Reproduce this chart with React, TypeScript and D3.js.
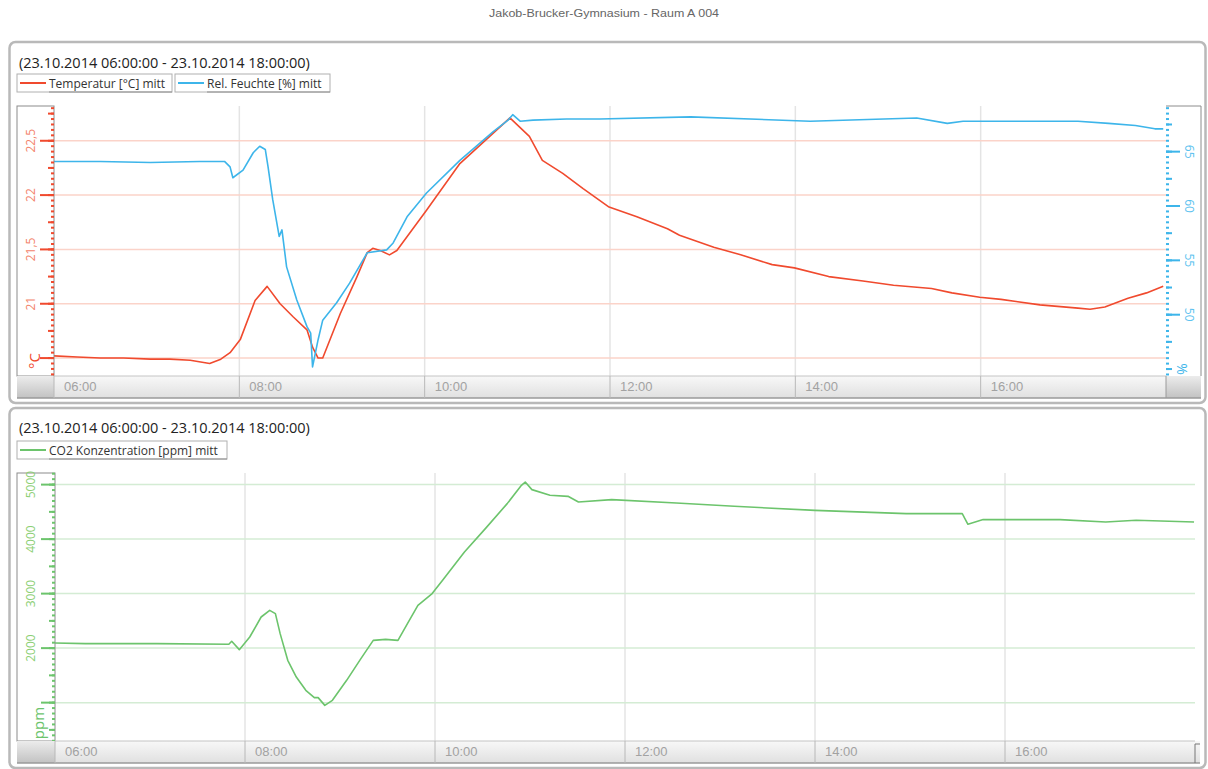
import React from 'react';
import * as d3 from 'd3';

// chart texts
const chartTitle = 'Jakob-Brucker-Gymnasium - Raum A 004';
const rangeLabel = '(23.10.2014 06:00:00 - 23.10.2014 18:00:00)';
const tempLegend = 'Temperatur [°C] mitt';
const humLegend = 'Rel. Feuchte [%] mitt';
const co2Legend = 'CO2 Konzentration [ppm] mitt';

// x axis (hours of 23.10.2014)
const xTickHours = [6, 8, 10, 12, 14, 16];
const xTickLabels = ['06:00', '08:00', '10:00', '12:00', '14:00', '16:00'];

// y axis ticks
const tempTicks = [20.5, 21, 21.5, 22, 22.5];
const tempTickLabels = ['', '21', '21,5', '22', '22,5'];
const humTicks = [50, 55, 60, 65];
const humTickLabels = ['50', '55', '60', '65'];
const co2Ticks = [1000, 2000, 3000, 4000, 5000];
const co2TickLabels = ['', '2000', '3000', '4000', '5000'];

// Temperatur [°C]
const tempHours = [6.0, 6.25, 6.5, 6.75, 7.04, 7.25, 7.47, 7.68, 7.8, 7.9, 8.01, 8.17, 8.3, 8.44, 8.58, 8.73, 8.79, 8.85, 8.9, 9.09, 9.27, 9.38, 9.44, 9.52, 9.62, 9.7, 10.02, 10.38, 10.74, 10.92, 11.13, 11.27, 11.49, 11.71, 11.99, 12.29, 12.62, 12.75, 13.12, 13.41, 13.75, 13.99, 14.36, 14.73, 15.06, 15.47, 15.69, 15.99, 16.22, 16.64, 17.05, 17.18, 17.34, 17.59, 17.79, 17.97];
const tempValues = [20.52, 20.51, 20.5, 20.5, 20.49, 20.49, 20.48, 20.45, 20.49, 20.55, 20.67, 21.03, 21.16, 21.0, 20.88, 20.76, 20.6, 20.5, 20.5, 20.91, 21.25, 21.47, 21.51, 21.49, 21.45, 21.49, 21.86, 22.29, 22.57, 22.71, 22.54, 22.32, 22.2, 22.06, 21.89, 21.8, 21.69, 21.63, 21.52, 21.45, 21.36, 21.33, 21.25, 21.21, 21.17, 21.14, 21.1, 21.06, 21.04, 20.99, 20.96, 20.95, 20.97, 21.05, 21.1, 21.16];

// Rel. Feuchte [%]
const humHours = [6.0, 6.5, 7.04, 7.57, 7.84, 7.9, 7.93, 8.04, 8.15, 8.22, 8.28, 8.31, 8.36, 8.43, 8.46, 8.51, 8.62, 8.73, 8.77, 8.79, 8.85, 8.9, 9.05, 9.19, 9.38, 9.59, 9.66, 9.81, 10.02, 10.38, 10.74, 10.9, 10.95, 11.03, 11.17, 11.53, 11.89, 12.87, 14.16, 15.31, 15.64, 15.81, 17.05, 17.38, 17.67, 17.88, 17.97];
const humValues = [64.1, 64.1, 64.0, 64.1, 64.1, 63.6, 62.6, 63.3, 64.9, 65.5, 65.2, 63.6, 60.6, 57.2, 57.8, 54.4, 51.35, 48.9, 48.3, 45.2, 47.7, 49.5, 51.1, 52.9, 55.7, 55.96, 56.6, 59.0, 61.2, 64.2, 66.85, 67.9, 68.4, 67.8, 67.9, 68.0, 68.0, 68.2, 67.8, 68.1, 67.6, 67.8, 67.8, 67.6, 67.4, 67.1, 67.1];

// CO2 Konzentration [ppm]
const co2Hours = [6.0, 6.32, 7.07, 7.83, 7.86, 7.94, 8.05, 8.17, 8.26, 8.32, 8.37, 8.45, 8.54, 8.64, 8.73, 8.77, 8.84, 8.92, 9.07, 9.22, 9.35, 9.48, 9.61, 9.71, 9.82, 9.97, 10.08, 10.31, 10.53, 10.76, 10.91, 10.95, 11.02, 11.21, 11.4, 11.51, 11.86, 12.54, 13.15, 14.0, 14.96, 15.55, 15.61, 15.77, 16.58, 17.06, 17.38, 17.99];
const co2Values = [2094, 2083, 2083, 2070, 2125, 1972, 2204, 2571, 2693, 2633, 2266, 1776, 1470, 1226, 1092, 1092, 950, 1042, 1409, 1807, 2143, 2161, 2143, 2450, 2785, 3000, 3244, 3763, 4193, 4651, 4987, 5048, 4908, 4804, 4785, 4681, 4725, 4662, 4602, 4528, 4468, 4468, 4272, 4358, 4358, 4314, 4345, 4314];

const RED = '#f04a2e';
const BLUE = '#3db5ea';
const GREEN = '#6cc46c';
const UI_FONT = '"Open Sans", "DejaVu Sans", sans-serif';
const TICK_FONT = '"Liberation Sans", Arial, sans-serif';

const stepValues = (scale: any, step: number) => {
  const [a, b] = scale.domain();
  return d3.range(Math.ceil(a / step - 1e-9), Math.floor(b / step + 1e-9) + 1).map((i) => +(i * step).toFixed(4));
};

// dotted scale like the original: minor, mid and major ticks
function YAxis({ scale, x, dir, minor, mid, ticks, color }: any) {
  return (
    <g>
      {stepValues(scale, minor).map((v: number) => (
        <line key={'m' + v} x1={x} x2={x + dir * 3} y1={scale(v)} y2={scale(v)} stroke={color} strokeWidth={2} />
      ))}
      {stepValues(scale, mid).map((v: number) => (
        <line key={'d' + v} x1={x} x2={x + dir * 6} y1={scale(v)} y2={scale(v)} stroke={color} strokeWidth={2} />
      ))}
      {ticks.map((v: number) => (
        <line key={'t' + v} x1={x} x2={x + dir * 14} y1={scale(v)} y2={scale(v)} stroke={color} strokeWidth={2} />
      ))}
    </g>
  );
}

function XStrip({ xScale, left, right, y }: any) {
  const h = 22;
  return (
    <g>
      <rect x={17} y={y} width={right + 35 - 17} height={h} fill="url(#stripGrad)" />
      <rect x={17} y={y} width={left - 17} height={h} fill="url(#cornerGrad)" />
      <rect x={right} y={y} width={left - 17 - 2} height={h} fill="url(#cornerGrad)" />
      <line x1={17} x2={right + 35} y1={y + h} y2={y + h} stroke="#9a9a9a" strokeWidth={1.5} />
      <line x1={left} x2={right} y1={y} y2={y} stroke="#c4c4c4" strokeWidth={1} />
      {xTickHours.map((t, i) => (
        <g key={t}>
          <line x1={xScale(t)} x2={xScale(t)} y1={y} y2={y + h} stroke="#b8b8b8" strokeWidth={1} />
          <text x={xScale(t) + 10} y={y + 15} fontFamily={TICK_FONT} fontSize={13} fill="#a2a2a2">
            {xTickLabels[i]}
          </text>
        </g>
      ))}
      <line x1={right} x2={right} y1={y} y2={y + h} stroke="#9a9a9a" strokeWidth={1} />
    </g>
  );
}

function Legend({ x, y, w, color, label }: any) {
  return (
    <g>
      <rect x={x} y={y} width={w} height={18} fill="#fff" stroke="#b0b0b0" strokeWidth={1} />
      <line x1={x + 32} x2={x + w} y1={y + 18} y2={y + 18} stroke="#909090" strokeWidth={1} />
      <line x1={x + 3} x2={x + 29} y1={y + 9} y2={y + 9} stroke={color} strokeWidth={2} />
      <text x={x + 32} y={y + 13.5} fontFamily={UI_FONT} fontSize={12} fill="#333">
        {label}
      </text>
    </g>
  );
}

export default function App() {
  // top panel
  const topL = 54, topR = 1166, topT = 106, topB = 376;
  const xTop = d3.scaleLinear().domain([6, 18]).range([topL, topR]);
  const yTemp = d3.scaleLinear().domain([20.335, 22.82]).range([topB, topT]);
  const yHum = d3.scaleLinear().domain([44.36, 69.2]).range([topB, topT]);
  // bottom panel
  const botL = 55, botR = 1195, botT = 473, botB = 741;
  const xBot = d3.scaleLinear().domain([6, 18]).range([botL, botR]);
  const yCo2 = d3.scaleLinear().domain([296, 5213]).range([botB, botT]);

  const tempLine = d3.line<[number, number]>().x((d) => xTop(d[0])).y((d) => yTemp(d[1]));
  const humLine = d3.line<[number, number]>().x((d) => xTop(d[0])).y((d) => yHum(d[1]));
  const co2Line = d3.line<[number, number]>().x((d) => xBot(d[0])).y((d) => yCo2(d[1]));

  return (
    <div style={{ position: 'absolute', left: 0, top: 0 }}>
      <svg width={1208} height={769} style={{ display: 'block', background: '#fff' }}>
        <defs>
          <linearGradient id="stripGrad" x1="0" y1="0" x2="0" y2="1">
            <stop offset="0" stopColor="#f8f8f8" />
            <stop offset="1" stopColor="#e0e0e0" />
          </linearGradient>
          <linearGradient id="cornerGrad" x1="0" y1="0" x2="0" y2="1">
            <stop offset="0" stopColor="#ececec" />
            <stop offset="1" stopColor="#c2c2c2" />
          </linearGradient>
          <clipPath id="clipTop">
            <rect x={topL} y={topT} width={topR - topL} height={topB - topT} />
          </clipPath>
          <clipPath id="clipBot">
            <rect x={botL} y={botT} width={botR - botL} height={botB - botT} />
          </clipPath>
        </defs>

        <text x={604} y={17} textAnchor="middle" fontFamily={TICK_FONT} fontSize={11} fill="#666" textLength={230} lengthAdjust="spacingAndGlyphs">
          {chartTitle}
        </text>

        {/* panel frames */}
        <rect x={9.5} y={42} width={1196} height={361} rx={6} fill="#fff" stroke="#b9b9b9" strokeWidth={2.5} />
        <rect x={9.5} y={408} width={1196} height={360} rx={6} fill="#fff" stroke="#b9b9b9" strokeWidth={2.5} />

        {/* ---------- top panel ---------- */}
        <text x={19} y={68} fontFamily={UI_FONT} fontSize={14.5} fill="#222">
          {rangeLabel}
        </text>
        <Legend x={17} y={74} w={155} color={RED} label={tempLegend} />
        <Legend x={175} y={74} w={155} color={BLUE} label={humLegend} />

        {xTickHours.slice(1).map((t) => (
          <line key={t} x1={xTop(t)} x2={xTop(t)} y1={topT} y2={topB} stroke="#e4e4e4" strokeWidth={1.5} />
        ))}
        {tempTicks.map((v) => (
          <line key={v} x1={topL} x2={topR} y1={yTemp(v)} y2={yTemp(v)} stroke="#fbd3c9" strokeWidth={1.5} />
        ))}

        <g clipPath="url(#clipTop)" fill="none" strokeWidth={1.6} strokeLinejoin="round">
          <path d={tempLine(d3.zip(tempHours, tempValues) as any) || ''} stroke={RED} />
          <path d={humLine(d3.zip(humHours, humValues) as any) || ''} stroke={BLUE} />
        </g>

        {/* left temperature axis */}
        <rect x={17} y={topT} width={topL - 17} height={topB - topT} fill="none" stroke="#8c8c8c" strokeWidth={1} />
        <YAxis scale={yTemp} x={topL} dir={-1} minor={0.05} mid={0.25} ticks={tempTicks} color={RED} />
        {tempTicks.map((v, i) => (
          <text key={v} transform={`translate(35,${yTemp(v)}) rotate(-90)`} textAnchor="middle" fontFamily={UI_FONT} fontSize={12} fill="#f3836c">
            {tempTickLabels[i]}
          </text>
        ))}
        <text transform={`translate(40,${topB - 15}) rotate(-90)`} textAnchor="middle" fontFamily={UI_FONT} fontSize={15} fill={RED}>
          °C
        </text>

        {/* right humidity axis */}
        <polyline points={`${topR},${topT} 1201,${topT} 1201,${topB}`} fill="none" stroke="#8c8c8c" strokeWidth={1} />
        <YAxis scale={yHum} x={topR} dir={1} minor={0.5} mid={2.5} ticks={humTicks} color={BLUE} />
        {humTicks.map((v, i) => (
          <text key={v} transform={`translate(1185,${yHum(v)}) rotate(90)`} textAnchor="middle" fontFamily={UI_FONT} fontSize={12} fill="#5cc2ef">
            {humTickLabels[i]}
          </text>
        ))}
        <text transform={`translate(1177,${topB - 7}) rotate(90)`} textAnchor="middle" fontFamily={UI_FONT} fontSize={14} fill={BLUE}>
          %
        </text>

        <XStrip xScale={xTop} left={topL} right={topR} y={topB} />

        {/* ---------- bottom panel ---------- */}
        <text x={19} y={433} fontFamily={UI_FONT} fontSize={14.5} fill="#222">
          {rangeLabel}
        </text>
        <Legend x={17} y={441} w={210} color={GREEN} label={co2Legend} />

        {xTickHours.slice(1).map((t) => (
          <line key={t} x1={xBot(t)} x2={xBot(t)} y1={botT} y2={botB} stroke="#e4e4e4" strokeWidth={1.5} />
        ))}
        {co2Ticks.map((v) => (
          <line key={v} x1={botL} x2={botR} y1={yCo2(v)} y2={yCo2(v)} stroke="#d4ecd4" strokeWidth={1.5} />
        ))}
        <g clipPath="url(#clipBot)" fill="none" strokeWidth={1.6} strokeLinejoin="round">
          <path d={co2Line(d3.zip(co2Hours, co2Values) as any) || ''} stroke={GREEN} />
        </g>

        <rect x={17} y={botT} width={botL - 17} height={botB - botT} fill="none" stroke="#8c8c8c" strokeWidth={1} />
        <YAxis scale={yCo2} x={botL} dir={-1} minor={100} mid={500} ticks={co2Ticks} color={GREEN} />
        {co2Ticks.map((v, i) => (
          <text key={v} transform={`translate(35,${yCo2(v)}) rotate(-90)`} textAnchor="middle" fontFamily={UI_FONT} fontSize={12} fill="#8ccf74">
            {co2TickLabels[i]}
          </text>
        ))}
        <text transform={`translate(44,${botB - 18}) rotate(-90)`} textAnchor="middle" fontFamily={UI_FONT} fontSize={15} fill={GREEN}>
          ppm
        </text>

        <g>
          <rect x={17} y={botB} width={botR + 5 - 17} height={22} fill="url(#stripGrad)" />
          <rect x={17} y={botB} width={botL - 17} height={22} fill="url(#cornerGrad)" />
          <line x1={17} x2={botR + 5} y1={botB + 22} y2={botB + 22} stroke="#9a9a9a" strokeWidth={1.5} />
          <line x1={botL} x2={botR} y1={botB} y2={botB} stroke="#c4c4c4" strokeWidth={1} />
          {xTickHours.map((t, i) => (
            <g key={t}>
              <line x1={xBot(t)} x2={xBot(t)} y1={botB} y2={botB + 22} stroke="#b8b8b8" strokeWidth={1} />
              <text x={xBot(t) + 10} y={botB + 15} fontFamily={TICK_FONT} fontSize={13} fill="#a2a2a2">
                {xTickLabels[i]}
              </text>
            </g>
          ))}
          <polyline points={`${botR},${botB + 22} ${botR},${botB + 3} ${botR + 5},${botB + 3}`} fill="none" stroke="#777" strokeWidth={1} />
        </g>
      </svg>
    </div>
  );
}
